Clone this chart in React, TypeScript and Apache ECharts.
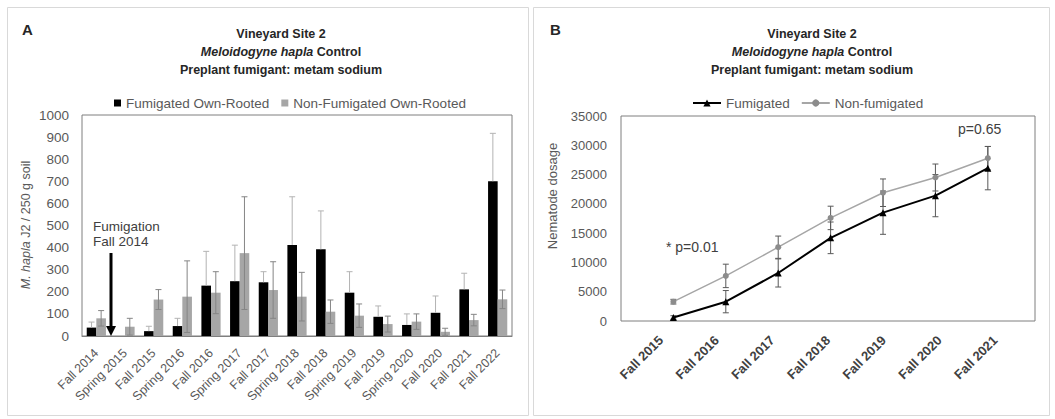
import React, { useEffect, useRef } from "react";
import * as echarts from "echarts";

const catsA = ["Fall 2014", "Spring 2015", "Fall 2015", "Spring 2016", "Fall 2016", "Spring 2017", "Fall 2017", "Spring 2018", "Fall 2018", "Spring 2019", "Fall 2019", "Spring 2020", "Fall 2020", "Fall 2021", "Fall 2022"];
const fumA = [38, 0, 22, 45, 228, 248, 243, 412, 392, 196, 87, 50, 105, 211, 700];
const fumErrA = [25, 0, 22, 35, 155, 163, 48, 218, 174, 95, 49, 50, 76, 73, 217];
const nonA = [80, 42, 165, 178, 196, 375, 208, 178, 110, 92, 54, 65, 19, 72, 166];
const nonErrA = [35, 38, 45, 162, 95, 255, 128, 110, 53, 53, 36, 35, 16, 26, 42];

const catsB = ["Fall 2015", "Fall 2016", "Fall 2017", "Fall 2018", "Fall 2019", "Fall 2020", "Fall 2021"];
const fumB = [600, 3300, 8200, 14200, 18500, 21400, 26100];
const fumErrB = [300, 1900, 2400, 2700, 3700, 3600, 3700];
const nonB = [3300, 7700, 12600, 17600, 21900, 24500, 27800];
const nonErrB = [400, 2000, 1900, 2000, 2350, 2300, 2000];

const FONT = "'Liberation Sans', Arial, sans-serif";
const CAT_GAP = 0.33;

function barErr(side: number, plusOnly: boolean, color: string) {
  return (params: any, api: any) => {
    const idx = api.value(0);
    const val = api.value(1);
    const err = api.value(2);
    if (!err) return null;
    const band = api.size([1, 0])[0];
    const barW = (band * (1 - CAT_GAP)) / 2;
    const x = api.coord([idx, val])[0] + (side * barW) / 2;
    const yTop = api.coord([idx, val + err])[1];
    const yBot = api.coord([idx, plusOnly ? val : Math.max(0, val - err)])[1];
    const st = { stroke: color, lineWidth: 1 };
    const ch: any[] = [
      { type: "line", shape: { x1: x, y1: yTop, x2: x, y2: yBot }, style: st },
      { type: "line", shape: { x1: x - 3, y1: yTop, x2: x + 3, y2: yTop }, style: st },
    ];
    if (!plusOnly) ch.push({ type: "line", shape: { x1: x - 3, y1: yBot, x2: x + 3, y2: yBot }, style: st });
    return { type: "group", children: ch };
  };
}

function lineErr(color: string) {
  return (params: any, api: any) => {
    const xv = api.value(0);
    const val = api.value(1);
    const err = api.value(2);
    const p1 = api.coord([xv, val + err]);
    const p2 = api.coord([xv, Math.max(0, val - err)]);
    const st = { stroke: color, lineWidth: 1 };
    return {
      type: "group",
      children: [
        { type: "line", shape: { x1: p1[0], y1: p1[1], x2: p2[0], y2: p2[1] }, style: st },
        { type: "line", shape: { x1: p1[0] - 3, y1: p1[1], x2: p1[0] + 3, y2: p1[1] }, style: st },
        { type: "line", shape: { x1: p2[0] - 3, y1: p2[1], x2: p2[0] + 3, y2: p2[1] }, style: st },
      ],
    };
  };
}

function titleTexts(cx: number) {
  const base = { fill: "#262626", fontFamily: FONT, fontSize: 12.5, fontWeight: "bold", align: "center", textAlign: "center", verticalAlign: "middle", textVerticalAlign: "middle" };
  return [
    { type: "text", x: cx, y: 34, style: { ...base, text: "Vineyard Site 2" } },
    {
      type: "text",
      x: cx,
      y: 52,
      style: {
        ...base,
        text: "{i|Meloidogyne hapla}{b| Control}",
        rich: {
          i: { fontStyle: "italic", fontWeight: "bold", fontSize: 12.5, fontFamily: FONT, fill: "#262626", color: "#262626" },
          b: { fontWeight: "bold", fontSize: 12.5, fontFamily: FONT, fill: "#262626", color: "#262626" },
        },
      },
    },
    { type: "text", x: cx, y: 70, style: { ...base, text: "Preplant fumigant: metam sodium" } },
  ];
}

const plain = (v: number) => String(v);

export default function App() {
  const ref = useRef<HTMLDivElement>(null);
  useEffect(() => {
    if (!ref.current) return;
    const chart = echarts.init(ref.current, null, { renderer: "svg" });
    const axisLbl = { color: "#595959", fontFamily: FONT };
    const option: any = {
      animation: false,
      backgroundColor: "#ffffff",
      legend: [
        {
          data: ["Fumigated Own-Rooted", "Non-Fumigated Own-Rooted"],
          left: 109,
          top: 91,
          icon: "rect",
          itemWidth: 7,
          itemHeight: 7,
          itemGap: 12,
          textStyle: { fontSize: 13.5, color: "#595959", fontFamily: FONT },
        },
        {
          data: ["Fumigated", "Non-fumigated"],
          left: 687,
          top: 91,
          itemWidth: 28,
          itemHeight: 9,
          itemGap: 11,
          textStyle: { fontSize: 13.5, color: "#595959", fontFamily: FONT },
        },
      ],
      grid: [
        { left: 82, top: 115, width: 430, height: 221, show: true, borderColor: "#7f7f7f", borderWidth: 1, backgroundColor: "transparent" },
        { left: 621, top: 116, width: 414, height: 205, show: true, borderColor: "#7f7f7f", borderWidth: 1, backgroundColor: "transparent" },
        { left: 633, top: 116, width: 390, height: 205, show: false },
      ],
      xAxis: [
        {
          gridIndex: 0,
          type: "category",
          data: catsA,
          axisLine: { show: true, lineStyle: { color: "#7f7f7f" } },
          axisTick: { show: false },
          axisLabel: { ...axisLbl, rotate: 45, interval: 0, fontSize: 12.5, margin: 15 },
        },
        {
          gridIndex: 1,
          type: "value",
          min: -1,
          max: 6.9,
          axisLine: { show: false },
          axisTick: { show: false },
          axisLabel: { show: false },
          splitLine: { show: false },
        },
        {
          gridIndex: 2,
          type: "category",
          data: catsB,
          axisLine: { show: false },
          axisTick: { show: false },
          axisLabel: { color: "#404040", fontFamily: FONT, fontWeight: "bold", rotate: 45, interval: 0, fontSize: 13, margin: 17 },
        },
      ],
      yAxis: [
        {
          gridIndex: 0,
          type: "value",
          min: 0,
          max: 1000,
          interval: 100,
          axisLine: { show: false },
          axisTick: { show: false },
          splitLine: { show: false },
          axisLabel: { ...axisLbl, fontSize: 13.5, margin: 13, formatter: plain },
        },
        {
          gridIndex: 1,
          type: "value",
          min: 0,
          max: 35000,
          interval: 5000,
          axisLine: { show: false },
          axisTick: { show: false },
          splitLine: { show: false },
          axisLabel: { ...axisLbl, fontSize: 13, margin: 14, formatter: plain },
        },
        { gridIndex: 2, type: "value", show: false, min: 0, max: 1 },
      ],
      series: [
        {
          name: "Fumigated Own-Rooted",
          type: "bar",
          xAxisIndex: 0,
          yAxisIndex: 0,
          data: fumA,
          itemStyle: { color: "#000000" },
          barGap: "0%",
          barCategoryGap: "33%",
        },
        {
          name: "Non-Fumigated Own-Rooted",
          type: "bar",
          xAxisIndex: 0,
          yAxisIndex: 0,
          data: nonA,
          itemStyle: { color: "#a6a6a6" },
          barGap: "0%",
          barCategoryGap: "33%",
        },
        {
          type: "custom",
          xAxisIndex: 0,
          yAxisIndex: 0,
          renderItem: barErr(-1, true, "#b3b3b3"),
          encode: { x: 0, y: 1 },
          data: catsA.map((c, i) => [i, fumA[i], fumErrA[i]]),
          z: 5,
        },
        {
          type: "custom",
          xAxisIndex: 0,
          yAxisIndex: 0,
          renderItem: barErr(1, false, "#858585"),
          encode: { x: 0, y: 1 },
          data: catsA.map((c, i) => [i, nonA[i], nonErrA[i]]),
          z: 5,
        },
        {
          type: "custom",
          xAxisIndex: 1,
          yAxisIndex: 1,
          renderItem: lineErr("#595959"),
          encode: { x: 0, y: 1 },
          data: catsB.map((c, i) => [i, nonB[i], nonErrB[i]]),
          z: 1,
        },
        {
          type: "custom",
          xAxisIndex: 1,
          yAxisIndex: 1,
          renderItem: lineErr("#595959"),
          encode: { x: 0, y: 1 },
          data: catsB.map((c, i) => [i, fumB[i], fumErrB[i]]),
          z: 1,
        },
        {
          name: "Non-fumigated",
          type: "line",
          xAxisIndex: 1,
          yAxisIndex: 1,
          data: catsB.map((c, i) => [i, nonB[i]]),
          symbol: "circle",
          symbolSize: 6,
          itemStyle: { color: "#8c8c8c" },
          lineStyle: { color: "#a6a6a6", width: 1.5 },
          z: 3,
        },
        {
          name: "Fumigated",
          type: "line",
          xAxisIndex: 1,
          yAxisIndex: 1,
          data: catsB.map((c, i) => [i, fumB[i]]),
          symbol: "triangle",
          symbolSize: 7,
          itemStyle: { color: "#000000" },
          lineStyle: { color: "#000000", width: 2 },
          z: 4,
        },
      ],
      graphic: [
        { type: "rect", shape: { x: 7.5, y: 7.5, width: 521, height: 408 }, style: { fill: "none", stroke: "#d9d9d9", lineWidth: 1 }, z: -1 },
        { type: "rect", shape: { x: 533.5, y: 7.5, width: 516, height: 408 }, style: { fill: "none", stroke: "#d9d9d9", lineWidth: 1 }, z: -1 },
        { type: "text", x: 22, y: 22, style: { text: "A", fontFamily: FONT, fontWeight: "bold", fontSize: 15, fill: "#262626" } },
        { type: "text", x: 550, y: 22, style: { text: "B", fontFamily: FONT, fontWeight: "bold", fontSize: 15, fill: "#262626" } },
        ...titleTexts(281),
        ...titleTexts(812),
        {
          type: "text",
          x: 26,
          y: 225,
          rotation: Math.PI / 2,
          style: {
            text: "{i|M. hapla} J2 / 250 g soil",
            fontFamily: FONT,
            fontSize: 12.5,
            fill: "#595959",
            align: "center",
            textAlign: "center",
            verticalAlign: "middle",
            textVerticalAlign: "middle",
            rich: { i: { fontStyle: "italic", fontSize: 12.5, fontFamily: FONT, fill: "#595959", color: "#595959" } },
          },
        },
        {
          type: "text",
          x: 552,
          y: 196,
          rotation: Math.PI / 2,
          style: { text: "Nematode dosage", fontFamily: FONT, fontSize: 13, fill: "#595959", align: "center", textAlign: "center", verticalAlign: "middle", textVerticalAlign: "middle" },
        },
        {
          type: "text",
          x: 93,
          y: 219,
          style: { text: "Fumigation\nFall 2014", fontFamily: FONT, fontSize: 13.5, lineHeight: 15, fill: "#404040" },
        },
        { type: "line", shape: { x1: 111, y1: 253, x2: 111, y2: 328 }, style: { stroke: "#000000", lineWidth: 3 } },
        { type: "polygon", shape: { points: [[106, 326], [116, 326], [111, 336]] }, style: { fill: "#000000" } },
        { type: "text", x: 666, y: 240, style: { text: "* p=0.01", fontFamily: FONT, fontSize: 14, fill: "#404040" } },
        { type: "text", x: 958, y: 122, style: { text: "p=0.65", fontFamily: FONT, fontSize: 14, fill: "#404040" } },
      ],
    };
    chart.setOption(option);
    return () => chart.dispose();
  }, []);
  return <div ref={ref} style={{ position: "absolute", left: 0, top: 0, width: 1055, height: 419, background: "#fff" }} />;
}
